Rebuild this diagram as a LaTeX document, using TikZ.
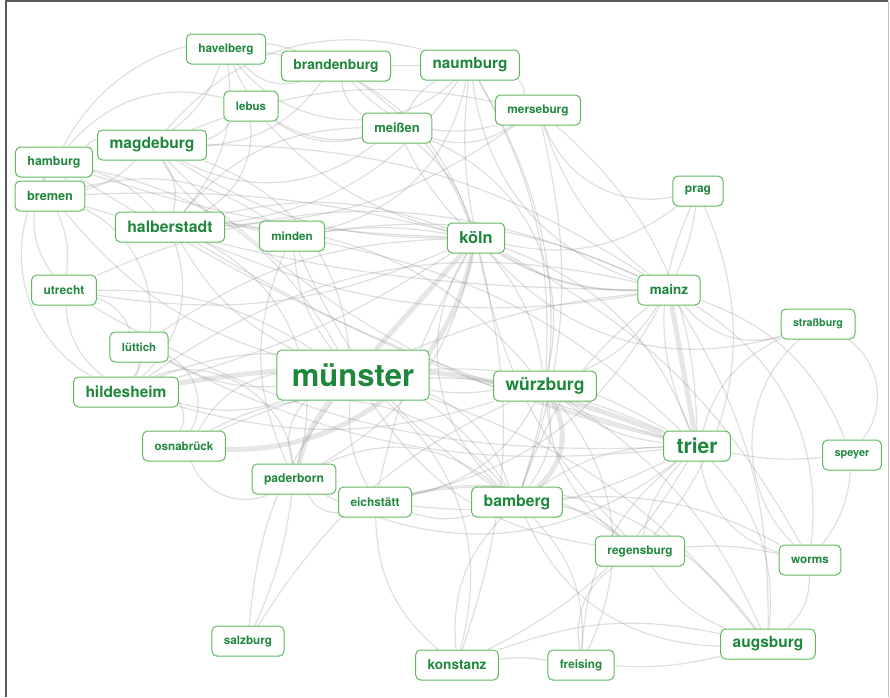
\documentclass[tikz,border=0pt]{standalone}
\usepackage{fontspec}
\setmainfont{TeX Gyre Heros}
\definecolor{bistumGreen}{RGB}{30,135,60}
\definecolor{bistumFrame}{RGB}{95,185,95}
\definecolor{bistumEdge}{RGB}{140,140,140}
\usetikzlibrary{backgrounds}

\begin{document}
\begin{tikzpicture}[x=1pt, y=-1pt,
  city/.style={draw=bistumFrame, fill=white, line width=1pt, rounded corners=5pt,
               text=bistumGreen, font=\bfseries\fontsize{#1}{#1}\selectfont,
               minimum height=30pt, inner xsep=12pt, inner ysep=0pt},
  city/.default=12,
  link/.style={draw=bistumEdge, line width=1.2pt, opacity=0.28},
  heavy/.style={draw=bistumEdge, line width=5pt, opacity=0.22}
]
  \useasboundingbox (0,0) rectangle (890,697);
  \draw[black!65, line width=1.5pt] (6,697) -- (6,1) -- (888,1);
  \draw[black!25, line width=1pt] (888,1) -- (888,697);

  % north
  \node[city=11.8] (havelberg)   at (226,49)  {havelberg};
  \node[city=13.8] (brandenburg) at (336,66)  {brandenburg};
  \node[city=15.3] (naumburg)    at (470,65)  {naumburg};
  \node[city=11.5] (lebus)       at (251,106) {lebus};
  \node[city=13]   (meissen)     at (397,128) {meißen};
  \node[city=11.8] (merseburg)   at (538,110) {merseburg};
  \node[city=15.6] (magdeburg)   at (152,145) {magdeburg};
  \node[city=12.4] (hamburg)     at (54,162)  {hamburg};
  \node[city=12.7] (bremen)      at (50,196)  {bremen};
  \node[city=15.8] (halberstadt) at (170,227) {halberstadt};
  \node[city=11.6] (minden)      at (292,236) {minden};
  \node[city=16.4] (koeln)       at (476,238) {köln};
  \node[city=12]   (prag)        at (698,191) {prag};
  % middle
  \node[city=12]   (utrecht)     at (64,290)  {utrecht};
  \node[city=13.5] (mainz)       at (669,290) {mainz};
  \node[city=10.7] (strassburg)  at (818,324) {straßburg};
  \node[city=11.4] (luettich)    at (139,347) {lüttich};
  \node[city=31, minimum height=50pt, inner xsep=15pt] (muenster) at (353,375) {münster};
  \node[city=15.5] (hildesheim)  at (126,392) {hildesheim};
  \node[city=17.5] (wuerzburg)   at (545,386) {würzburg};
  \node[city=11.6] (osnabrueck)  at (184,446) {osnabrück};
  \node[city=21, inner xsep=13pt] (trier) at (697,446) {trier};
  \node[city=10.9] (speyer)      at (852,455) {speyer};
  \node[city=12.1] (paderborn)   at (294,479) {paderborn};
  \node[city=11.9] (eichstaett)  at (375,502) {eichstätt};
  \node[city=15.8] (bamberg)     at (517,502) {bamberg};
  % south
  \node[city=11.8] (regensburg)  at (640,551) {regensburg};
  \node[city=11.7] (worms)       at (810,560) {worms};
  \node[city=11.7] (salzburg)    at (248,641) {salzburg};
  \node[city=13.6] (konstanz)    at (457,665) {konstanz};
  \node[city=11.7] (freising)    at (581,665) {freising};
  \node[city=15.5] (augsburg)    at (768,644) {augsburg};

  \begin{scope}[on background layer]
    % strong ties
    \foreach \a/\b/\c in {koeln/muenster/0, mainz/trier/0, osnabrueck/koeln/-40,
        paderborn/muenster/12, hildesheim/trier/15, wuerzburg/bamberg/40}
      \draw[heavy] (\a) to[bend left=\c] (\b);
    % all other ties
    \foreach \a/\b/\c [evaluate=\c as \k using 1.6*\c] in {havelberg/magdeburg/10, havelberg/brandenburg/-20,
        havelberg/naumburg/-30, havelberg/halberstadt/15, havelberg/meissen/-25,
        havelberg/koeln/20, brandenburg/naumburg/0, brandenburg/magdeburg/15,
        brandenburg/merseburg/-20, brandenburg/meissen/-15, brandenburg/koeln/10,
        brandenburg/hamburg/-25, naumburg/merseburg/10, naumburg/meissen/-10,
        naumburg/magdeburg/-20, naumburg/halberstadt/15, naumburg/mainz/-20,
        naumburg/wuerzburg/10, naumburg/koeln/-5, naumburg/bamberg/15,
        naumburg/minden/20, lebus/magdeburg/10, lebus/meissen/-15,
        lebus/halberstadt/20, lebus/koeln/-10, lebus/hamburg/-20,
        meissen/merseburg/-15, meissen/magdeburg/20, meissen/koeln/10,
        meissen/mainz/-20, meissen/halberstadt/-15, meissen/wuerzburg/25,
        merseburg/magdeburg/-10, merseburg/mainz/-10, merseburg/trier/15,
        merseburg/prag/-25, merseburg/halberstadt/10, merseburg/bamberg/10,
        magdeburg/halberstadt/15, magdeburg/hamburg/-10, magdeburg/bremen/10,
        magdeburg/minden/-15, magdeburg/muenster/20, magdeburg/koeln/-10,
        magdeburg/trier/-10, magdeburg/mainz/10, hamburg/bremen/25,
        hamburg/koeln/-5, hamburg/muenster/15, hamburg/halberstadt/10,
        hamburg/utrecht/-20, hamburg/hildesheim/-30, hamburg/trier/-5,
        bremen/koeln/5, bremen/muenster/-10, bremen/utrecht/10, bremen/minden/15,
        bremen/hildesheim/30, bremen/mainz/-5, halberstadt/minden/5,
        halberstadt/koeln/10, halberstadt/muenster/-10, halberstadt/hildesheim/20,
        halberstadt/mainz/-10, halberstadt/trier/-5, halberstadt/paderborn/25,
        halberstadt/wuerzburg/15, minden/koeln/5, minden/muenster/-10,
        minden/paderborn/-15, minden/mainz/10, minden/trier/10, minden/bamberg/-10,
        koeln/mainz/-10, koeln/trier/15, koeln/wuerzburg/10, koeln/bamberg/-25,
        koeln/utrecht/10, koeln/luettich/-10, koeln/hildesheim/5,
        koeln/paderborn/15, koeln/prag/-15, koeln/strassburg/-20, koeln/worms/10,
        koeln/konstanz/10, koeln/eichstaett/-5, koeln/regensburg/-10,
        prag/mainz/5, prag/trier/-15, prag/regensburg/20, utrecht/muenster/10,
        utrecht/luettich/15, utrecht/hildesheim/-15, utrecht/trier/-10,
        utrecht/mainz/15, mainz/wuerzburg/10, mainz/muenster/-5, mainz/bamberg/-10,
        mainz/strassburg/-20, mainz/speyer/15, mainz/worms/20,
        mainz/hildesheim/-15, mainz/augsburg/10, mainz/eichstaett/15,
        strassburg/trier/-15, strassburg/worms/-30, strassburg/speyer/30,
        luettich/muenster/-10, luettich/hildesheim/10, luettich/trier/-10,
        luettich/osnabrueck/30, muenster/hildesheim/10, muenster/paderborn/-20,
        muenster/osnabrueck/-15, muenster/wuerzburg/-5, muenster/trier/10,
        muenster/eichstaett/-10, muenster/bamberg/15, muenster/konstanz/20,
        muenster/salzburg/-10, muenster/regensburg/-15, muenster/augsburg/10,
        hildesheim/osnabrueck/20, hildesheim/paderborn/35, hildesheim/wuerzburg/-10,
        hildesheim/bamberg/25, wuerzburg/trier/-10, wuerzburg/bamberg/15,
        wuerzburg/regensburg/-15, wuerzburg/augsburg/10, wuerzburg/freising/20,
        wuerzburg/eichstaett/15, osnabrueck/paderborn/-30, osnabrueck/trier/15,
        osnabrueck/bamberg/25, trier/speyer/-5, trier/worms/-20,
        trier/augsburg/15, trier/regensburg/-10, trier/bamberg/-10,
        trier/paderborn/20, trier/eichstaett/10, trier/freising/-15,
        trier/konstanz/10, speyer/worms/10, paderborn/eichstaett/-20,
        paderborn/salzburg/5, paderborn/bamberg/20, eichstaett/bamberg/-10,
        eichstaett/konstanz/-15, eichstaett/augsburg/20, eichstaett/regensburg/15,
        bamberg/regensburg/10, bamberg/konstanz/-15, bamberg/freising/15,
        bamberg/augsburg/-20, bamberg/worms/10, regensburg/worms/5,
        regensburg/augsburg/-10, regensburg/freising/-20, salzburg/wuerzburg/10,
        konstanz/freising/5, konstanz/augsburg/10, freising/augsburg/-5,
        worms/augsburg/15}
      \draw[link] (\a) to[bend left=\k] (\b);
  \end{scope}
\end{tikzpicture}
\end{document}
